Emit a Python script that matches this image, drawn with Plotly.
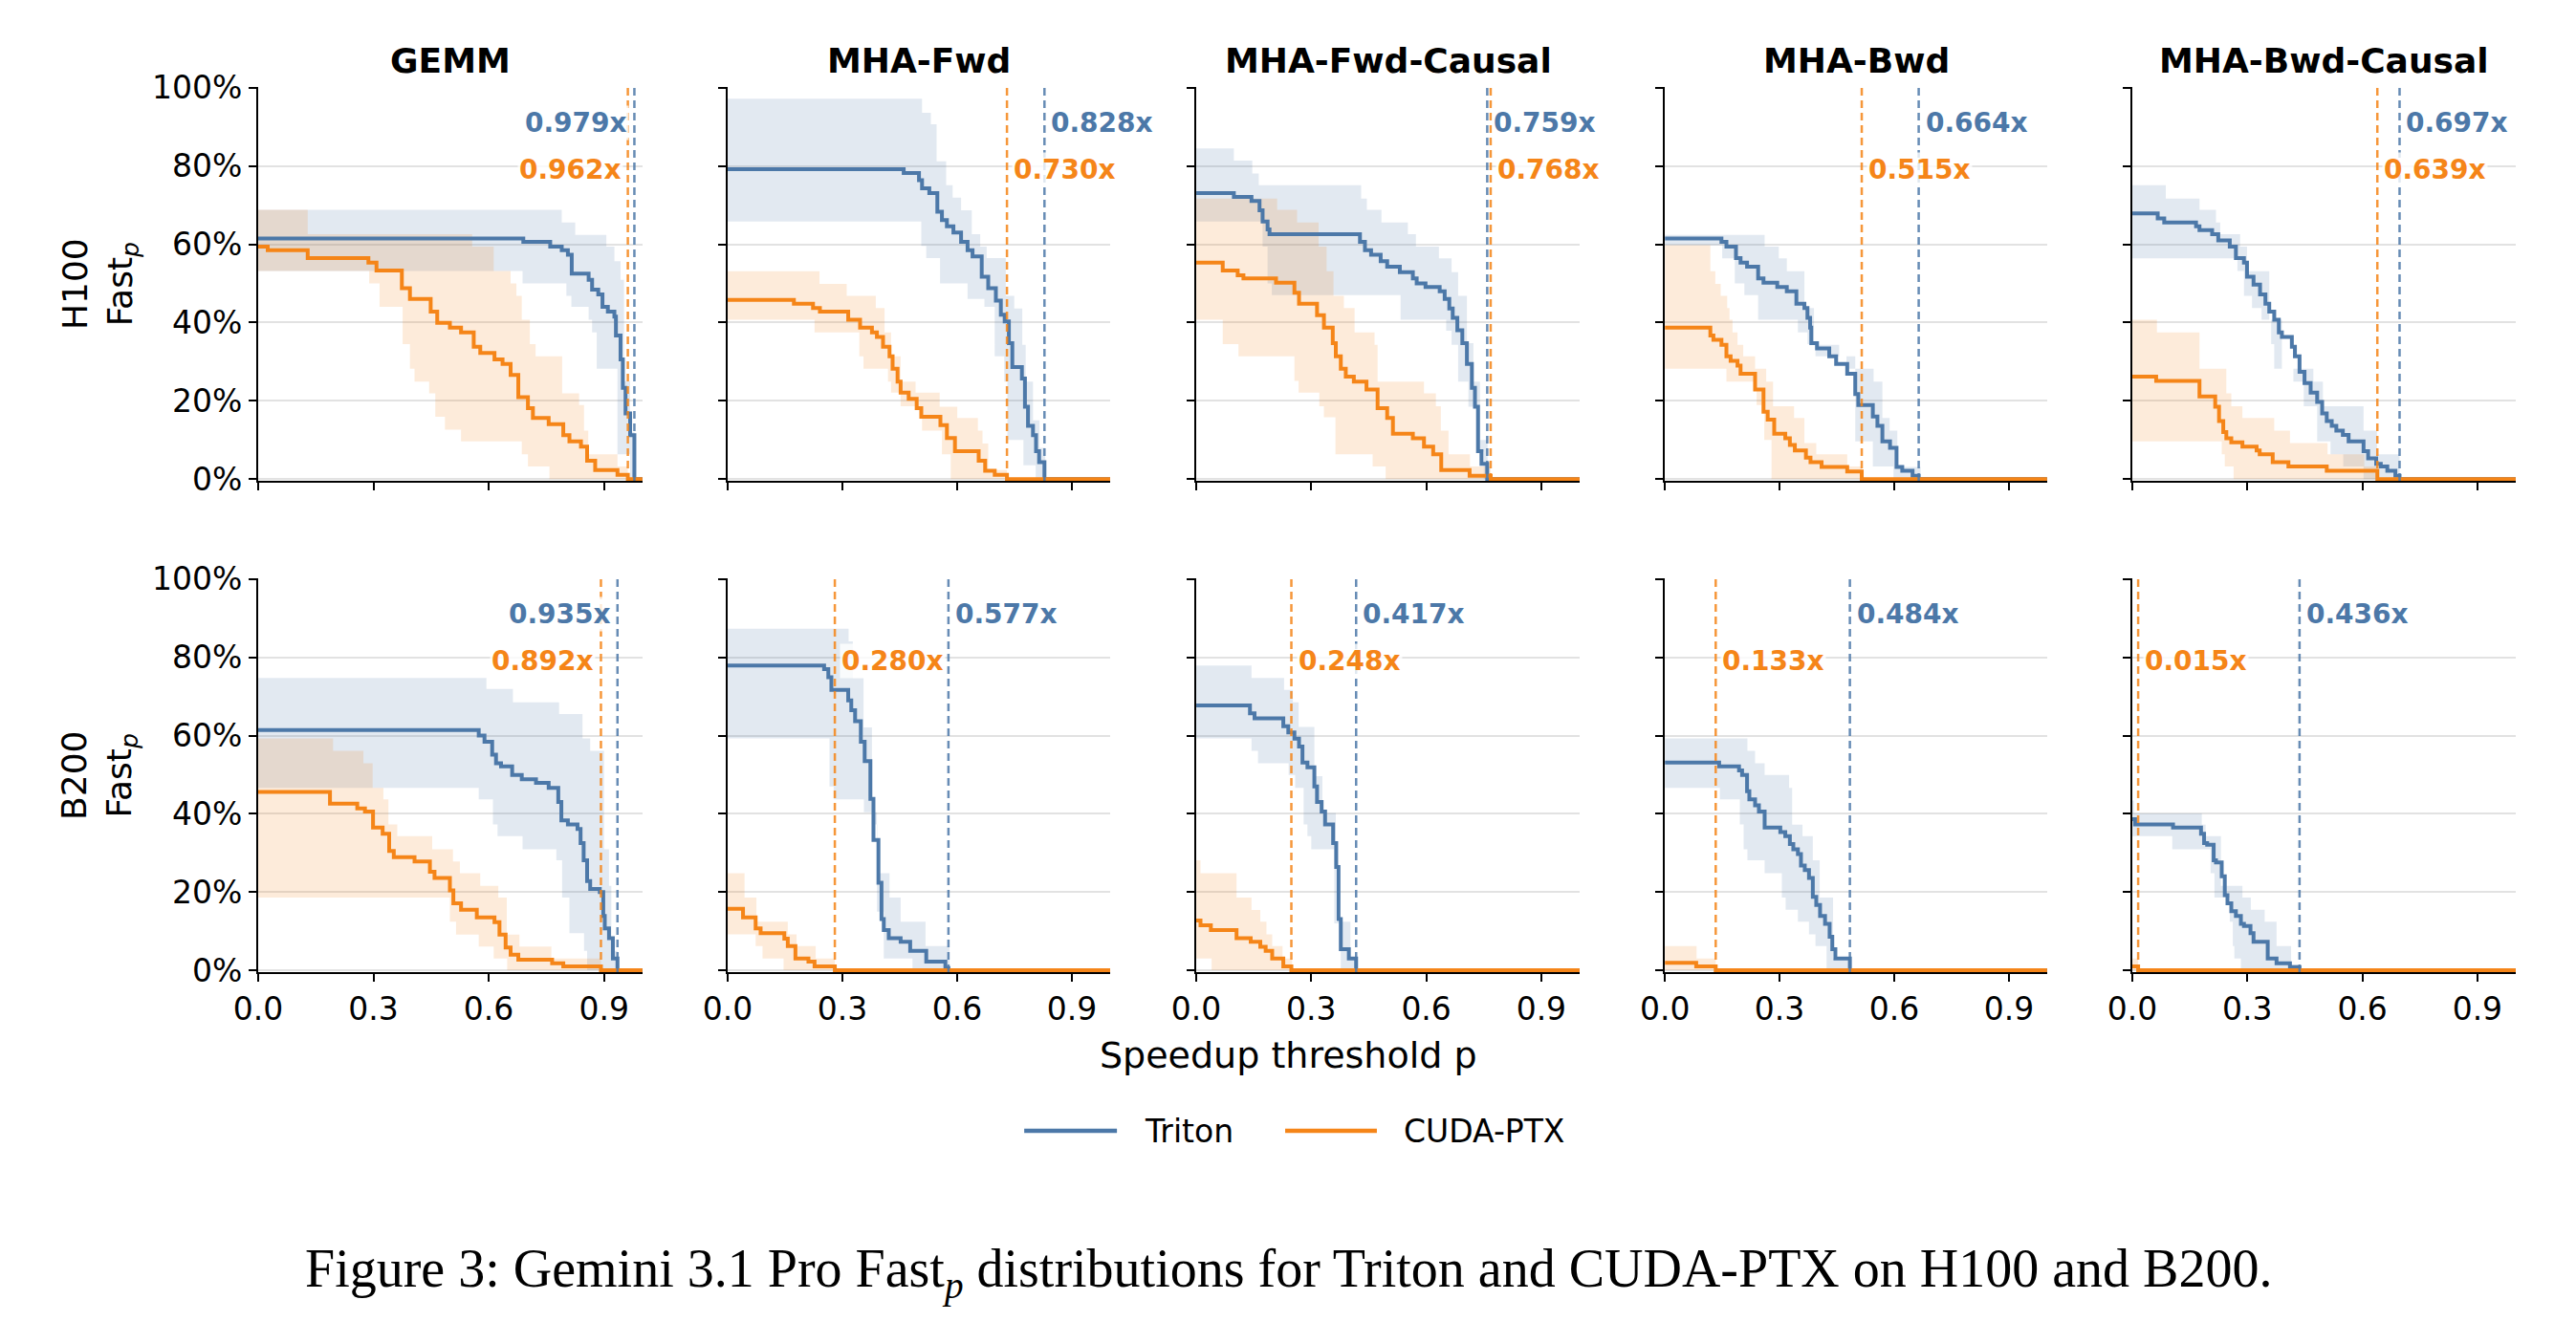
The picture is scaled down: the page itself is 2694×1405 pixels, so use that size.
import plotly.graph_objects as go
from plotly.subplots import make_subplots

# panels
kernels = ["GEMM", "MHA-Fwd", "MHA-Fwd-Causal", "MHA-Bwd", "MHA-Bwd-Causal"]
kernel_keys = ["gemm", "fwd", "fwd_causal", "bwd", "bwd_causal"]
gpus = ["H100", "B200"]
backends = ["triton", "cuda"]
backend_names = {"triton": "Triton", "cuda": "CUDA-PTX"}

# max speedup (dashed lines)
h100_triton_max = [0.979, 0.828, 0.759, 0.664, 0.697]
h100_cuda_max = [0.962, 0.730, 0.768, 0.515, 0.639]
b200_triton_max = [0.935, 0.577, 0.417, 0.484, 0.436]
b200_cuda_max = [0.892, 0.280, 0.248, 0.133, 0.015]

# Fast_p step curves: (threshold p, % of tasks) at each step, plus lo/hi band

# ---- H100 ----
h100_gemm_triton = [(0, 61.5), (0.69, 60.6), (0.76, 59.4), (0.79, 58.5), (0.806, 57.3), (0.816, 52.5),
                    (0.86, 50.9), (0.869, 48.4), (0.885, 47.2), (0.896, 44.0), (0.91, 42.8), (0.927, 41.5),
                    (0.931, 36.7), (0.943, 30.6), (0.949, 23.3), (0.956, 16.8), (0.968, 11.2), (0.979, 0)]
h100_gemm_triton_hi = [(0, 68.8), (0.79, 65.6), (0.825, 62.4), (0.906, 59.4), (0.927, 55.7), (0.943, 50.9),
                       (0.952, 25.0), (0.968, 12.0), (0.979, 0)]
h100_gemm_triton_lo = [(0, 53.2), (0.688, 50.0), (0.802, 46.8), (0.815, 44.0), (0.86, 40.7), (0.869, 37.5),
                       (0.881, 28.2), (0.935, 6.3), (0.968, 0)]
h100_gemm_cuda = [(0, 59.4), (0.025, 58.5), (0.129, 56.5), (0.287, 55.3), (0.308, 53.3), (0.374, 48.8),
                  (0.395, 46.0), (0.449, 42.8), (0.466, 39.9), (0.499, 38.7), (0.528, 37.5), (0.561, 33.8),
                  (0.578, 32.2), (0.615, 30.6), (0.636, 29.4), (0.657, 26.6), (0.677, 20.9), (0.702, 18.1),
                  (0.715, 15.6), (0.756, 14.0), (0.794, 11.2), (0.81, 9.6), (0.84, 8.3), (0.856, 4.7),
                  (0.877, 2.3), (0.935, 1.1), (0.962, 0)]
h100_gemm_cuda_hi = [(0, 68.8), (0.129, 62.6), (0.557, 59.4), (0.613, 53.2), (0.657, 50.0), (0.672, 46.8),
                     (0.686, 40.7), (0.707, 34.5), (0.722, 31.4), (0.791, 21.9), (0.835, 18.9), (0.848, 12.4),
                     (0.859, 6.3), (0.935, 3.2), (0.962, 0)]
h100_gemm_cuda_lo = [(0, 53.2), (0.289, 50.0), (0.316, 44.0), (0.376, 34.5), (0.395, 28.2), (0.407, 24.9),
                     (0.445, 21.9), (0.461, 15.9), (0.486, 12.6), (0.528, 9.6), (0.686, 6.3), (0.702, 3.2),
                     (0.758, 0)]

h100_fwd_triton = [(0, 79.2), (0.46, 78.2), (0.5, 76.4), (0.508, 74.3), (0.527, 73.1), (0.548, 68.3),
                   (0.56, 66.2), (0.573, 64.6), (0.59, 63.0), (0.61, 60.6), (0.627, 58.5), (0.64, 56.9),
                   (0.664, 51.7), (0.681, 48.8), (0.701, 45.6), (0.714, 42.0), (0.724, 40.3), (0.735, 34.7),
                   (0.744, 28.6), (0.769, 25.7), (0.777, 18.5), (0.785, 13.6), (0.798, 11.2), (0.806, 7.1),
                   (0.814, 4.3), (0.828, 0)]
h100_fwd_triton_hi = [(0, 97.2), (0.508, 93.6), (0.531, 90.7), (0.546, 81.2), (0.571, 75.1), (0.588, 71.9),
                      (0.61, 68.7), (0.638, 62.6), (0.66, 59.4), (0.677, 56.5), (0.727, 46.8), (0.749, 43.6),
                      (0.77, 34.3), (0.779, 24.9), (0.798, 15.0), (0.815, 8.0), (0.83, 0)]
h100_fwd_triton_lo = [(0, 65.8), (0.506, 59.6), (0.519, 56.5), (0.555, 50.0), (0.627, 46.0), (0.671, 44.0),
                      (0.698, 31.4), (0.723, 24.9), (0.731, 10.0), (0.773, 3.5), (0.805, 0)]
h100_fwd_cuda = [(0, 45.8), (0.173, 44.8), (0.223, 43.7), (0.241, 42.8), (0.315, 40.7), (0.346, 38.7),
                 (0.377, 37.5), (0.39, 36.3), (0.406, 33.8), (0.423, 31.4), (0.431, 28.2), (0.444, 24.9),
                 (0.452, 22.1), (0.473, 20.5), (0.494, 18.1), (0.506, 15.9), (0.556, 13.8), (0.573, 10.5),
                 (0.594, 7.1), (0.656, 4.7), (0.673, 2.1), (0.698, 1.1), (0.73, 0)]
h100_fwd_cuda_hi = [(0, 53.1), (0.24, 49.9), (0.311, 46.8), (0.387, 43.7), (0.41, 37.5), (0.427, 31.4),
                    (0.452, 24.9), (0.491, 22.1), (0.554, 18.5), (0.6, 15.6), (0.654, 12.4), (0.666, 9.1),
                    (0.681, 2.3), (0.73, 0)]
h100_fwd_cuda_lo = [(0, 40.7), (0.227, 37.5), (0.344, 31.4), (0.355, 28.2), (0.419, 24.9), (0.427, 22.1),
                    (0.452, 18.6), (0.508, 12.4), (0.56, 6.3), (0.583, 0)]

h100_fwd_causal_triton = [(0, 73.1), (0.098, 72.1), (0.144, 71.1), (0.165, 68.7), (0.173, 65.8), (0.186, 63.8),
                          (0.191, 62.6), (0.427, 60.6), (0.44, 58.5), (0.456, 57.3), (0.481, 55.7), (0.498, 54.3),
                          (0.531, 52.9), (0.565, 51.3), (0.575, 50.0), (0.598, 49.1), (0.635, 48.0), (0.648, 46.0),
                          (0.66, 43.6), (0.669, 41.2), (0.681, 38.0), (0.694, 34.7), (0.706, 29.4), (0.719, 23.3),
                          (0.727, 18.5), (0.735, 7.1), (0.744, 3.9), (0.759, 0)]
h100_fwd_causal_triton_hi = [(0, 84.5), (0.098, 81.4), (0.146, 78.1), (0.163, 75.1), (0.43, 71.7), (0.445, 68.8),
                             (0.483, 65.6), (0.552, 62.6), (0.573, 59.4), (0.633, 56.4), (0.666, 52.9),
                             (0.683, 46.8), (0.706, 34.7), (0.723, 24.9), (0.74, 10.0), (0.76, 0)]
h100_fwd_causal_triton_lo = [(0, 65.8), (0.173, 59.4), (0.186, 50.0), (0.197, 47.0), (0.533, 40.7), (0.652, 37.9),
                             (0.666, 34.3), (0.683, 24.9), (0.71, 18.5), (0.731, 7.0), (0.75, 0)]
h100_fwd_causal_cuda = [(0, 55.3), (0.069, 53.3), (0.108, 52.1), (0.123, 51.3), (0.208, 50.2), (0.256, 47.6),
                        (0.268, 44.8), (0.315, 41.9), (0.333, 38.7), (0.356, 34.7), (0.364, 31.4), (0.377, 28.2),
                        (0.39, 26.2), (0.411, 24.9), (0.444, 22.9), (0.473, 18.1), (0.498, 15.6), (0.513, 11.6),
                        (0.565, 10.4), (0.594, 8.3), (0.618, 6.3), (0.639, 2.3), (0.713, 0.8), (0.768, 0)]
h100_fwd_causal_cuda_hi = [(0, 71.7), (0.211, 68.8), (0.263, 65.6), (0.319, 59.4), (0.34, 53.1), (0.358, 46.8),
                           (0.385, 43.7), (0.413, 37.5), (0.465, 34.3), (0.473, 24.9), (0.594, 21.9),
                           (0.625, 18.6), (0.638, 12.4), (0.658, 6.3), (0.714, 3.2), (0.768, 0)]
h100_fwd_causal_cuda_lo = [(0, 40.7), (0.069, 34.5), (0.11, 31.4), (0.256, 25.1), (0.267, 22.1), (0.321, 18.6),
                           (0.333, 15.8), (0.363, 6.3), (0.46, 3.2), (0.494, 0)]

h100_bwd_triton = [(0, 61.5), (0.148, 60.6), (0.161, 59.4), (0.186, 56.5), (0.198, 55.3), (0.215, 54.3),
                   (0.244, 51.3), (0.258, 50.2), (0.294, 49.1), (0.319, 48.0), (0.344, 44.8), (0.365, 43.7),
                   (0.373, 41.2), (0.38, 38.7), (0.383, 34.7), (0.398, 33.4), (0.43, 31.4), (0.448, 29.4),
                   (0.477, 26.9), (0.498, 21.7), (0.506, 18.9), (0.544, 16.0), (0.556, 13.6), (0.569, 9.6),
                   (0.589, 8.0), (0.606, 3.1), (0.621, 2.1), (0.648, 0.8), (0.664, 0)]
h100_bwd_triton_hi = [(0, 62.4), (0.261, 59.4), (0.298, 56.4), (0.319, 53.1), (0.365, 43.7), (0.39, 34.3),
                      (0.456, 31.4), (0.498, 28.2), (0.546, 24.9), (0.569, 15.6), (0.588, 12.4), (0.608, 3.1),
                      (0.669, 0)]
h100_bwd_triton_lo = [(0, 59.8), (0.15, 56.4), (0.183, 50.0), (0.208, 47.0), (0.244, 40.7), (0.348, 37.5),
                      (0.373, 34.5), (0.394, 31.4), (0.475, 28.2), (0.498, 9.6), (0.544, 3.2), (0.598, 0)]
h100_bwd_cuda = [(0, 38.7), (0.119, 36.7), (0.127, 35.6), (0.148, 34.3), (0.161, 31.4), (0.172, 30.2),
                 (0.19, 29.0), (0.198, 26.9), (0.236, 22.9), (0.258, 17.2), (0.269, 15.2), (0.286, 11.6),
                 (0.315, 10.4), (0.327, 8.7), (0.34, 7.3), (0.369, 5.5), (0.381, 4.3), (0.41, 3.1),
                 (0.477, 1.9), (0.515, 0)]
h100_bwd_cuda_hi = [(0, 59.8), (0.119, 53.1), (0.132, 49.9), (0.146, 46.8), (0.163, 43.7), (0.169, 40.7),
                    (0.177, 37.5), (0.19, 34.3), (0.205, 31.4), (0.236, 28.2), (0.265, 24.9), (0.283, 18.6),
                    (0.338, 15.6), (0.365, 9.2), (0.396, 6.3), (0.477, 3.2), (0.515, 0)]
h100_bwd_cuda_lo = [(0, 28.2), (0.161, 24.9), (0.24, 18.9), (0.26, 10.0), (0.279, 0)]

h100_bwd_causal_triton = [(0, 67.9), (0.066, 66.6), (0.083, 65.6), (0.166, 64.6), (0.175, 63.6), (0.208, 62.6),
                          (0.224, 61.0), (0.254, 59.4), (0.27, 56.5), (0.291, 55.3), (0.299, 51.7), (0.316, 49.7),
                          (0.333, 47.2), (0.347, 44.8), (0.357, 42.8), (0.37, 40.7), (0.382, 37.5), (0.39, 36.3),
                          (0.416, 33.8), (0.424, 31.4), (0.436, 27.4), (0.449, 24.5), (0.465, 22.1), (0.482, 19.7),
                          (0.495, 16.8), (0.507, 14.8), (0.52, 13.6), (0.532, 12.4), (0.549, 11.3), (0.564, 9.6),
                          (0.603, 7.1), (0.615, 5.3), (0.636, 3.9), (0.648, 3.2), (0.665, 2.1), (0.686, 0.8),
                          (0.697, 0)]
h100_bwd_causal_triton_hi = [(0, 75.1), (0.087, 71.7), (0.175, 68.8), (0.218, 65.6), (0.229, 62.6), (0.281, 59.4),
                             (0.299, 53.1), (0.357, 40.7), (0.39, 28.2), (0.472, 24.9), (0.497, 18.6),
                             (0.603, 12.4), (0.638, 6.3), (0.697, 0)]
h100_bwd_causal_triton_lo = [(0, 56.4), (0.274, 53.2), (0.291, 46.8), (0.312, 43.7), (0.337, 40.7), (0.362, 34.5),
                             (0.37, 28.2), (0.42, 24.9), (0.447, 18.6), (0.482, 9.6), (0.517, 6.3), (0.55, 3.2),
                             (0.603, 0)]
h100_bwd_causal_cuda = [(0, 26.2), (0.062, 25.1), (0.175, 21.1), (0.216, 18.5), (0.226, 14.8), (0.237, 12.0),
                        (0.245, 10.4), (0.258, 9.4), (0.287, 8.3), (0.324, 7.3), (0.332, 6.3), (0.366, 4.3),
                        (0.407, 3.2), (0.507, 2.1), (0.639, 0)]
h100_bwd_causal_cuda_hi = [(0, 40.7), (0.064, 37.5), (0.175, 28.2), (0.245, 21.9), (0.258, 18.6), (0.287, 15.6),
                           (0.37, 12.4), (0.411, 9.2), (0.509, 6.3), (0.605, 3.2), (0.64, 0)]
h100_bwd_causal_cuda_lo = [(0, 9.6), (0.233, 6.3), (0.241, 3.2), (0.264, 0)]

# ---- B200 ----
b200_gemm_triton = [(0, 61.4), (0.574, 60.0), (0.589, 58.4), (0.609, 55.1), (0.619, 52.9), (0.632, 52.1),
                    (0.661, 49.9), (0.686, 48.8), (0.723, 47.9), (0.756, 46.6), (0.781, 43.0), (0.789, 38.3),
                    (0.806, 37.3), (0.831, 36.1), (0.839, 32.5), (0.847, 28.1), (0.856, 22.8), (0.864, 20.8),
                    (0.889, 20.0), (0.898, 13.9), (0.902, 10.7), (0.913, 8.2), (0.923, 3.0), (0.935, 0)]
b200_gemm_triton_hi = [(0, 74.7), (0.594, 71.9), (0.663, 68.5), (0.783, 65.5), (0.844, 59.3), (0.864, 56.1),
                       (0.9, 30.9), (0.913, 21.6), (0.919, 5.0), (0.935, 0)]
b200_gemm_triton_lo = [(0, 46.6), (0.574, 43.7), (0.611, 37.3), (0.623, 34.3), (0.688, 30.9), (0.776, 28.1),
                       (0.791, 18.6), (0.81, 9.5), (0.848, 5.0), (0.856, 0)]
b200_gemm_cuda = [(0, 45.6), (0.187, 42.6), (0.258, 41.4), (0.278, 40.6), (0.299, 36.5), (0.324, 34.9),
                  (0.341, 30.5), (0.353, 28.9), (0.407, 27.8), (0.447, 25.2), (0.459, 23.6), (0.499, 20.4),
                  (0.508, 17.1), (0.528, 15.5), (0.569, 13.5), (0.615, 12.3), (0.628, 9.1), (0.644, 5.8),
                  (0.657, 4.0), (0.677, 2.7), (0.765, 1.8), (0.794, 1.0), (0.892, 0)]
b200_gemm_cuda_hi = [(0, 59.3), (0.195, 56.1), (0.274, 52.9), (0.298, 46.6), (0.326, 43.7), (0.339, 37.3),
                     (0.362, 34.3), (0.453, 30.9), (0.507, 27.8), (0.525, 24.8), (0.578, 21.6), (0.625, 18.6),
                     (0.647, 9.1), (0.68, 6.1), (0.763, 3.0), (0.892, 0)]
b200_gemm_cuda_lo = [(0, 18.6), (0.499, 12.4), (0.515, 9.1), (0.574, 6.1), (0.613, 3.0), (0.648, 0)]

b200_fwd_triton = [(0, 77.9), (0.252, 77.0), (0.263, 74.9), (0.271, 71.7), (0.315, 69.0), (0.323, 66.5),
                   (0.333, 63.7), (0.348, 58.4), (0.358, 53.5), (0.373, 43.8), (0.381, 33.3), (0.394, 22.4),
                   (0.402, 13.1), (0.408, 10.3), (0.421, 8.2), (0.452, 7.3), (0.477, 5.0), (0.519, 2.2),
                   (0.569, 0.6), (0.577, 0)]
b200_fwd_triton_hi = [(0, 87.3), (0.316, 84.1), (0.327, 74.7), (0.355, 62.1), (0.377, 37.3), (0.391, 24.8),
                      (0.423, 18.6), (0.452, 12.4), (0.517, 6.2), (0.58, 0)]
b200_fwd_triton_lo = [(0, 59.3), (0.266, 47.0), (0.277, 43.7), (0.356, 40.4), (0.39, 15.0), (0.408, 3.0),
                      (0.483, 0)]
b200_fwd_cuda = [(0, 15.7), (0.04, 13.5), (0.073, 10.7), (0.086, 9.5), (0.148, 8.1), (0.157, 6.2),
                 (0.177, 3.0), (0.211, 2.2), (0.227, 1.0), (0.28, 0)]
b200_fwd_cuda_hi = [(0, 24.8), (0.044, 18.6), (0.075, 12.4), (0.157, 9.2), (0.18, 6.2), (0.23, 3.0), (0.28, 0)]
b200_fwd_cuda_lo = [(0, 9.2), (0.073, 6.2), (0.091, 3.0), (0.146, 0)]

b200_fwd_causal_triton = [(0, 67.7), (0.14, 65.7), (0.152, 64.4), (0.227, 62.4), (0.24, 60.8), (0.256, 59.2),
                          (0.268, 57.2), (0.277, 53.1), (0.29, 51.9), (0.308, 47.0), (0.315, 43.0), (0.327, 40.6),
                          (0.336, 37.3), (0.357, 32.5), (0.365, 26.4), (0.371, 13.1), (0.377, 5.4), (0.398, 3.0),
                          (0.417, 0)]
b200_fwd_causal_triton_hi = [(0, 77.9), (0.144, 74.7), (0.229, 71.7), (0.252, 68.5), (0.267, 62.2), (0.308, 49.6),
                             (0.329, 40.2), (0.364, 12.4), (0.402, 3.0), (0.417, 0)]
b200_fwd_causal_triton_lo = [(0, 59.3), (0.144, 56.1), (0.161, 52.9), (0.241, 49.9), (0.258, 46.6), (0.28, 37.3),
                             (0.29, 34.3), (0.3, 30.9), (0.36, 12.0), (0.377, 0)]
b200_fwd_causal_cuda = [(0, 12.7), (0.011, 11.5), (0.038, 10.3), (0.105, 8.2), (0.142, 7.3), (0.167, 6.0),
                        (0.181, 5.0), (0.198, 3.0), (0.227, 1.0), (0.248, 0)]
b200_fwd_causal_cuda_hi = [(0, 28.1), (0.011, 24.8), (0.105, 18.6), (0.144, 15.4), (0.167, 12.4), (0.183, 9.2),
                           (0.198, 6.2), (0.225, 3.0), (0.25, 0)]
b200_fwd_causal_cuda_lo = [(0, 3.0), (0.04, 0)]

b200_bwd_triton = [(0, 53.1), (0.142, 52.1), (0.194, 51.1), (0.202, 49.9), (0.215, 45.8), (0.221, 43.7),
                   (0.236, 42.2), (0.246, 40.6), (0.261, 36.5), (0.302, 35.3), (0.315, 34.3), (0.327, 32.3),
                   (0.336, 30.9), (0.348, 29.7), (0.356, 26.8), (0.366, 25.6), (0.377, 23.6), (0.387, 18.8),
                   (0.396, 16.7), (0.406, 13.9), (0.419, 11.9), (0.431, 8.6), (0.438, 5.4), (0.446, 3.0),
                   (0.484, 0)]
b200_bwd_triton_hi = [(0, 59.3), (0.216, 56.1), (0.236, 52.9), (0.261, 49.9), (0.325, 46.6), (0.333, 37.2),
                      (0.36, 34.3), (0.387, 28.1), (0.405, 18.6), (0.44, 3.0), (0.484, 0)]
b200_bwd_triton_lo = [(0, 46.6), (0.144, 43.7), (0.196, 37.3), (0.206, 30.9), (0.216, 28.1), (0.261, 24.8),
                      (0.306, 18.6), (0.316, 15.5), (0.348, 12.4), (0.377, 9.2), (0.394, 6.2), (0.423, 0)]
b200_bwd_cuda = [(0, 1.9), (0.082, 1.0), (0.133, 0)]
b200_bwd_cuda_hi = [(0, 6.2), (0.083, 3.0), (0.133, 0)]
b200_bwd_cuda_lo = [(0, 0.0), (0.133, 0)]

b200_bwd_causal_triton = [(0, 38.6), (0.007, 37.3), (0.106, 36.5), (0.179, 34.9), (0.187, 32.5), (0.195, 32.1),
                          (0.212, 28.1), (0.218, 27.6), (0.233, 24.0), (0.241, 19.2), (0.248, 17.1), (0.258, 15.1),
                          (0.27, 13.9), (0.283, 11.9), (0.291, 11.3), (0.308, 9.5), (0.316, 7.3), (0.353, 3.0),
                          (0.376, 1.8), (0.411, 0.8), (0.436, 0)]
b200_bwd_causal_triton_hi = [(0, 43.4), (0.004, 40.1), (0.181, 37.2), (0.191, 34.3), (0.231, 21.6), (0.287, 18.6),
                             (0.309, 15.5), (0.345, 12.4), (0.376, 6.2), (0.414, 1.5), (0.436, 0)]
b200_bwd_causal_triton_lo = [(0, 34.3), (0.104, 30.9), (0.204, 24.8), (0.214, 18.6), (0.254, 12.4), (0.262, 6.2),
                             (0.266, 3.0), (0.283, 0)]
b200_bwd_causal_cuda = [(0, 1.0), (0.015, 0)]
b200_bwd_causal_cuda_hi = [(0, 3.0), (0.015, 0)]
b200_bwd_causal_cuda_lo = [(0, 0.0), (0.015, 0)]

XMAX = 1.0
line_color = {"triton": "#4C78A8", "cuda": "#F58518"}
band_color = {"triton": "rgba(76,120,168,0.16)", "cuda": "rgba(245,133,24,0.16)"}
dash_color = {"triton": "rgba(76,120,168,0.85)", "cuda": "rgba(245,133,24,0.85)"}
max_speedup = {("H100", "triton"): h100_triton_max, ("H100", "cuda"): h100_cuda_max,
               ("B200", "triton"): b200_triton_max, ("B200", "cuda"): b200_cuda_max}

col_domains = [[0.1002, 0.2494], [0.2825, 0.4310], [0.4644, 0.6132], [0.6463, 0.7947], [0.8278, 0.9766]]
row_domains = [[0.6420, 0.9352], [0.2762, 0.5694]]


def steps(pts):
    xs = [p[0] for p in pts] + [XMAX]
    ys = [p[1] for p in pts] + [pts[-1][1]]
    return xs, ys


def curve(gpu, key, backend, part=""):
    return globals()[f"{gpu.lower()}_{key}_{backend}{part}"]


fig = make_subplots(rows=2, cols=5)

for r, gpu in enumerate(gpus, start=1):
    for c, key in enumerate(kernel_keys, start=1):
        # bands first
        for b in backends:
            lx, ly = steps(curve(gpu, key, b, "_lo"))
            hx, hy = steps(curve(gpu, key, b, "_hi"))
            fig.add_trace(go.Scatter(x=lx, y=ly, mode="lines", line=dict(width=0, shape="hv"),
                                     hoverinfo="skip", showlegend=False), row=r, col=c)
            fig.add_trace(go.Scatter(x=hx, y=hy, mode="lines", line=dict(width=0, shape="hv"),
                                     fill="tonexty", fillcolor=band_color[b],
                                     hoverinfo="skip", showlegend=False), row=r, col=c)
        for b in backends:
            xs, ys = steps(curve(gpu, key, b))
            fig.add_trace(go.Scatter(x=xs, y=ys, mode="lines", name=backend_names[b],
                                     line=dict(color=line_color[b], width=4, shape="hv"),
                                     showlegend=False), row=r, col=c)

        idx = (r - 1) * 5 + c
        xa = "x" if idx == 1 else f"x{idx}"
        ya = "y" if idx == 1 else f"y{idx}"
        for b, ypos in (("triton", 0.91), ("cuda", 0.79)):
            m = max_speedup[(gpu, b)][c - 1]
            fig.add_shape(type="line", x0=m, x1=m, y0=0, y1=1, xref=xa, yref=f"{ya} domain",
                          line=dict(color=dash_color[b], width=2.5, dash="8px,5px"))
            left = m > 0.85
            fig.add_annotation(x=m, y=ypos, xref=xa, yref=f"{ya} domain",
                               text=f"<b>{m:.3f}x</b>", showarrow=False,
                               xanchor="right" if left else "left", yanchor="middle",
                               xshift=-5 if left else 5,
                               font=dict(family="DejaVu Sans", size=28, color=line_color[b]),
                               bgcolor="rgba(255,255,255,0.8)", borderpad=1)

        fig.update_xaxes(domain=col_domains[c - 1], range=[0, XMAX], automargin=False,
                         tickvals=[0, 0.3, 0.6, 0.9], ticktext=["0.0", "0.3", "0.6", "0.9"],
                         showticklabels=(r == 2), showline=True, linecolor="black", linewidth=2,
                         ticks="outside", ticklen=8, tickwidth=2, tickcolor="black",
                         showgrid=False, zeroline=False, layer="below traces",
                         tickfont=dict(size=33), row=r, col=c)
        fig.update_yaxes(domain=row_domains[r - 1], range=[-0.45, 100.2], automargin=False,
                         tickvals=[0, 20, 40, 60, 80, 100],
                         ticktext=["0%", "20%", "40%", "60%", "80%", "100%"],
                         showticklabels=(c == 1), showline=True, linecolor="black", linewidth=2,
                         ticks="outside", ticklen=8, tickwidth=2, tickcolor="black",
                         showgrid=True, gridcolor="#e2e2e2", gridwidth=1.5, zeroline=False,
                         layer="below traces", tickfont=dict(size=33), row=r, col=c)

# column titles
for c, name in enumerate(kernels, start=1):
    fig.add_annotation(x=0.5, y=0.955, xref="x domain" if c == 1 else f"x{c} domain", yref="paper",
                       text=f"<b>{name}</b>", showarrow=False, yanchor="middle",
                       font=dict(family="DejaVu Sans", size=36, color="black"))

# row labels
for r, gpu in enumerate(gpus):
    fig.add_annotation(x=0.0386, y=sum(row_domains[r]) / 2, xref="paper", yref="paper",
                       text=f"{gpu}<br>Fast<sub><i>p</i></sub>", textangle=-90, showarrow=False,
                       xanchor="center", yanchor="middle", align="center",
                       font=dict(family="DejaVu Sans", size=36, color="black"))

fig.add_annotation(x=0.5, y=0.2142, xref="paper", yref="paper", text="Speedup threshold p",
                   showarrow=False, yanchor="middle",
                   font=dict(family="DejaVu Sans", size=38, color="black"))

# legend
legend_y = 0.158
for b, (x0, x1, xt) in (("triton", (0.3976, 0.4336, 0.4436)), ("cuda", (0.4989, 0.5345, 0.5442))):
    fig.add_shape(type="line", x0=x0, x1=x1, y0=legend_y, y1=legend_y, xref="paper", yref="paper",
                  line=dict(color=line_color[b], width=4.5))
    fig.add_annotation(x=xt, y=legend_y, xref="paper", yref="paper", text=backend_names[b],
                       showarrow=False, xanchor="left", yanchor="middle",
                       font=dict(family="DejaVu Sans", size=33, color="black"))

fig.add_annotation(x=0.5, y=0.052, xref="paper", yref="paper",
                   text="Figure 3: Gemini 3.1 Pro Fast<sub><i>p</i></sub> distributions for Triton and CUDA-PTX on H100 and B200.",
                   showarrow=False, yanchor="middle",
                   font=dict(family="Liberation Serif", size=56, color="black"))

fig.update_layout(width=2694, height=1405, margin=dict(l=0, r=0, t=0, b=0, autoexpand=False),
                  plot_bgcolor="white", paper_bgcolor="white", showlegend=False,
                  font=dict(family="DejaVu Sans", size=33, color="black"))

fig.write_html("out.html", config={"displayModeBar": False},
               post_script="document.body.style.margin='0';")
